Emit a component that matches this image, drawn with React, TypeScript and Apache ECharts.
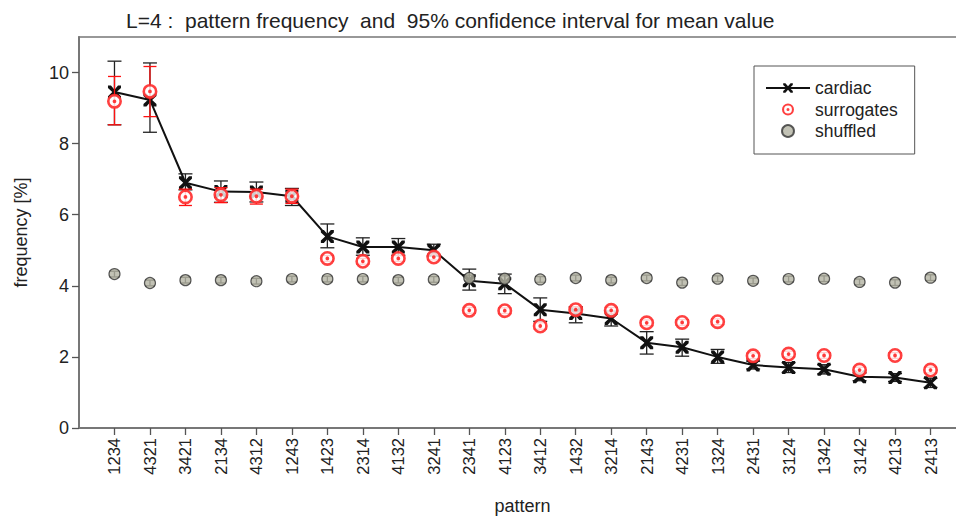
import React, { useEffect, useRef } from "react";
import * as echarts from "echarts";

const categories = ["1234","4321","3421","2134","4312","1243","1423","2314","4132","3241","2341","4123","3412","1432","3214","2143","4231","1324","2431","3124","1342","3142","4213","2413"];

const cardiac = [9.45,9.23,6.9,6.65,6.64,6.52,5.39,5.09,5.09,5.0,4.14,4.06,3.33,3.22,3.08,2.4,2.27,2.0,1.77,1.7,1.65,1.44,1.42,1.27];
const cardiacLow = [8.53,8.32,6.7,6.35,6.36,6.26,5.07,4.86,4.86,4.84,3.88,3.78,3.0,2.96,2.87,2.08,2.02,1.82,1.66,1.56,1.52,1.33,1.31,1.14];
const cardiacHigh = [10.32,10.27,7.15,6.95,6.92,6.74,5.74,5.35,5.33,5.17,4.47,4.33,3.66,3.41,3.29,2.71,2.5,2.21,1.88,1.84,1.78,1.55,1.53,1.4];

const surrogates = [9.19,9.47,6.5,6.56,6.52,6.52,4.77,4.69,4.77,4.81,3.31,3.3,2.87,3.33,3.31,2.96,2.97,2.99,2.03,2.08,2.04,1.63,2.04,1.63];
const surrogatesLow = [8.53,8.76,6.26,6.34,6.3,6.32,4.69,4.61,4.69,4.73,3.23,3.22,2.78,3.25,3.23,2.88,2.89,2.91,1.95,2.0,1.96,1.55,1.96,1.55];
const surrogatesHigh = [9.89,10.17,6.72,6.76,6.72,6.72,4.85,4.77,4.85,4.89,3.39,3.38,2.96,3.41,3.39,3.04,3.05,3.07,2.11,2.16,2.12,1.71,2.12,1.71];

const shuffled = [4.33,4.08,4.16,4.16,4.13,4.19,4.19,4.19,4.16,4.18,4.22,4.2,4.18,4.22,4.16,4.22,4.09,4.2,4.14,4.19,4.2,4.11,4.09,4.23];
const shuffledLow = [4.25,4.0,4.08,4.08,4.05,4.11,4.11,4.11,4.08,4.1,4.14,4.12,4.1,4.14,4.08,4.14,4.01,4.12,4.06,4.11,4.12,4.03,4.01,4.15];
const shuffledHigh = [4.41,4.16,4.24,4.24,4.21,4.27,4.27,4.27,4.24,4.26,4.3,4.28,4.26,4.3,4.24,4.3,4.17,4.28,4.22,4.27,4.28,4.19,4.17,4.31];

const yTicks = [0, 2, 4, 6, 8, 10];

const X_SYMBOL = "path://M0,0L2.3,0L5,3.1L7.7,0L10,0L10,1.9L6.7,5L10,8.1L10,10L7.7,10L5,6.9L2.3,10L0,10L0,8.1L3.3,5L0,1.9Z";
const TARGET_SYMBOL = "path://M0,-7.5A7.5,7.5 0 1,1 0,7.5A7.5,7.5 0 1,1 0,-7.5Z M0,-4.9A4.9,4.9 0 1,0 0,4.9A4.9,4.9 0 1,0 0,-4.9Z M0,-1.9A1.9,1.9 0 1,1 0,1.9A1.9,1.9 0 1,1 0,-1.9Z";

const RED = "#ff1010";
const FONT = "Liberation Sans, Arial, sans-serif";

function errorSeries(name: string, low: number[], high: number[], color: string, cap: number, z: number) {
  return {
    name,
    type: "custom",
    z,
    silent: true,
    data: low.map((l, i) => [i + 1, l, high[i]]),
    renderItem: (params: any, api: any) => {
      const x = api.value(0);
      const lo = api.coord([x, api.value(1)]);
      const hi = api.coord([x, api.value(2)]);
      const st = { stroke: color, lineWidth: 1.3 };
      return {
        type: "group",
        children: [
          { type: "line", shape: { x1: lo[0], y1: lo[1], x2: hi[0], y2: hi[1] }, style: st },
          { type: "line", shape: { x1: lo[0] - cap, y1: lo[1], x2: lo[0] + cap, y2: lo[1] }, style: st },
          { type: "line", shape: { x1: hi[0] - cap, y1: hi[1], x2: hi[0] + cap, y2: hi[1] }, style: st },
        ],
      };
    },
  };
}

export default function App() {
  const ref = useRef<HTMLDivElement>(null);
  useEffect(() => {
    if (!ref.current) return;
    const chart = echarts.init(ref.current, null, { renderer: "svg" });
    const xs = categories.map((_, i) => i + 1);
    chart.setOption({
      animation: false,
      backgroundColor: "#ffffff",
      title: {
        text: "L=4 :  pattern frequency  and  95% confidence interval for mean value",
        left: 121,
        top: 5,
        textStyle: { fontFamily: FONT, fontSize: 21, fontWeight: "normal", color: "#222" },
      },
      legend: {
        orient: "vertical",
        left: 754,
        top: 66,
        padding: [13, 17, 14, 11],
        itemWidth: 44,
        itemHeight: 12,
        itemGap: 3.5,
        borderColor: "#555",
        borderWidth: 1,
        textStyle: { fontFamily: FONT, fontSize: 17.5, color: "#222" },
        data: [{ name: "cardiac" }, { name: "surrogates" }, { name: "shuffled" }],
      },
      grid: {
        left: 79,
        right: -10,
        top: 37,
        bottom: 88,
        outerBoundsMode: "none",
        containLabel: false,
        show: true,
        borderColor: "#777",
        borderWidth: 1.5,
        backgroundColor: "transparent",
      },
      xAxis: {
        type: "value",
        min: 0,
        max: 25,
        interval: 1,
        name: "pattern",
        nameLocation: "middle",
        nameGap: 69,
        nameTextStyle: { fontFamily: FONT, fontSize: 18, color: "#222" },
        axisLine: { lineStyle: { color: "#777", width: 2 } },
        axisTick: { customValues: xs, length: 7, lineStyle: { color: "#555", width: 1.3 } },
        axisLabel: {
          customValues: xs,
          rotate: 90,
          margin: 10,
          fontFamily: FONT,
          fontSize: 16.5,
          color: "#222",
          formatter: (v: number) => categories[Math.round(v) - 1] ?? "",
        },
        splitLine: { show: false },
      },
      yAxis: {
        type: "value",
        min: 0,
        max: 11,
        interval: 2,
        name: "frequency [%]",
        nameLocation: "middle",
        nameGap: 49,
        nameTextStyle: { fontFamily: FONT, fontSize: 18, color: "#222" },
        axisLine: { show: true, lineStyle: { color: "#777", width: 2 } },
        axisTick: { show: true, customValues: yTicks, length: 7, lineStyle: { color: "#555", width: 1.3 } },
        axisLabel: { customValues: yTicks, margin: 10, fontFamily: FONT, fontSize: 18, color: "#222" },
        splitLine: { show: false },
      },
      series: [
        errorSeries("cardiacErr", cardiacLow, cardiacHigh, "#222", 7, 2),
        {
          name: "cardiac",
          type: "line",
          z: 3,
          data: cardiac.map((v, i) => [i + 1, v]),
          symbol: X_SYMBOL,
          symbolSize: 13,
          lineStyle: { color: "#111", width: 2 },
          itemStyle: { color: "#111" },
        },
        errorSeries("surrogatesErr", surrogatesLow, surrogatesHigh, RED, 6.5, 4),
        {
          name: "surrBg",
          type: "scatter",
          z: 5,
          silent: true,
          data: surrogates.map((v, i) => [i + 1, v]),
          symbol: "circle",
          symbolSize: 14,
          itemStyle: { color: "#ffffff" },
        },
        {
          name: "surrogates",
          type: "scatter",
          z: 6,
          data: surrogates.map((v, i) => [i + 1, v]),
          symbol: TARGET_SYMBOL,
          symbolSize: 15,
          itemStyle: { color: RED },
        },
        errorSeries("shuffledErr", shuffledLow, shuffledHigh, "#333", 5, 7),
        {
          name: "shuffled",
          type: "scatter",
          z: 8,
          data: shuffled.map((v, i) => [i + 1, v]),
          symbol: "circle",
          symbolSize: 11,
          itemStyle: { color: "#b3b3a3", borderColor: "#333", borderWidth: 1.2 },
        },
      ],
    });
    return () => chart.dispose();
  }, []);
  return <div ref={ref} style={{ position: "fixed", left: 0, top: 0, width: 956, height: 516 }} />;
}
